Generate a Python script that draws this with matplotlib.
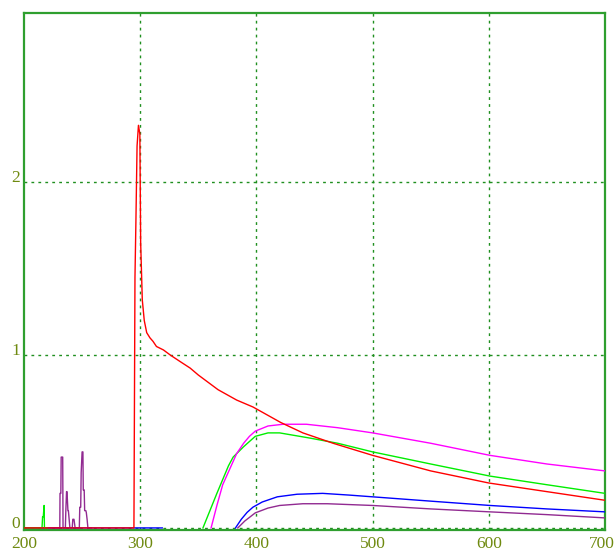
import numpy as np
import matplotlib
matplotlib.use("Agg")
import matplotlib.pyplot as plt
import matplotlib.transforms as mtransforms

# ---- data ----
red_wl = [200, 294.6, 295, 295.5, 296.3, 297.3, 298.5, 299.7, 300.4, 301.8, 303.5, 305.6,
          308.4, 311, 314, 320, 326, 335, 343, 350, 358, 367, 383, 397, 421, 440, 466,
          500, 550, 600, 650, 700]
red_val = [0, 0, 0.64, 1.45, 1.77, 2.21, 2.33, 2.28, 1.65, 1.32, 1.20, 1.13,
           1.10, 1.08, 1.05, 1.03, 1.00, 0.96, 0.925, 0.885, 0.845, 0.80, 0.74, 0.70, 0.61, 0.55, 0.49,
           0.42, 0.33, 0.26, 0.21, 0.16]

magenta_wl = [361, 366, 371, 377, 383, 389, 394, 399, 410, 423, 443, 470, 500, 550, 601, 650, 700]
magenta_val = [0, 0.13, 0.25, 0.34, 0.43, 0.49, 0.53, 0.56, 0.59, 0.60, 0.60, 0.58, 0.55, 0.49, 0.42, 0.37, 0.33]

green_wl = [200, 215.5, 216, 216.6, 217.3, 217.6, 220, None,
            354, 360, 366, 371, 376, 380, 389, 399, 410, 420, 446, 470, 500, 550, 601, 650, 700]
green_val = [0, 0, 0.065, 0.065, 0.13, 0, 0, None,
             0, 0.10, 0.20, 0.28, 0.36, 0.41, 0.47, 0.53, 0.55, 0.55, 0.52, 0.49, 0.44, 0.37, 0.30, 0.25, 0.20]

blue_wl = [200, 319, None,
           382, 387, 392, 397, 405, 418, 435, 457, 480, 500, 550, 601, 650, 700]
blue_val = [0, 0, None,
            0, 0.05, 0.09, 0.12, 0.15, 0.18, 0.195, 0.20, 0.19, 0.18, 0.155, 0.13, 0.11, 0.093]

purple_wl = [200, 230.8, 231, 231.7, 232, 233.3, 233.6, 235.6, 236, 236.6, 237, 237.8, 238.2, 239.5,
             241.5, 242, 243, 244, 247.6, 248, 248.8, 249.2, 250, 250.7, 251, 251.8, 252.2, 253.2,
             253.6, 254.3, 255, 258, None,
             384, 390, 399, 410, 420, 440, 461, 500, 550, 601, 650, 700]
purple_val = [0, 0, 0.20, 0.20, 0.41, 0.41, 0, 0, 0.10, 0.21, 0.21, 0.10, 0.10, 0,
              0, 0.05, 0.05, 0, 0, 0.12, 0.12, 0.32, 0.44, 0.44, 0.22, 0.22, 0.10, 0.10,
              0.09, 0.05, 0, 0, None,
              0, 0.04, 0.087, 0.115, 0.13, 0.14, 0.14, 0.13, 0.11, 0.093, 0.077, 0.058]

x_ticks = [200, 300, 400, 500, 600, 700]
y_ticks = [0, 1, 2]


def arr(v):
    return np.array([np.nan if a is None else a for a in v], dtype=float)


fig = plt.figure(figsize=(6.16, 5.51), dpi=100)
W, H = 616, 551
left, right, top, bottom = 24, 605, 13, 530
ax = fig.add_axes([left / W, (H - bottom) / H, (right - left) / W, (bottom - top) / H])

lw = 1.0
ax.plot(arr(purple_wl), arr(purple_val), color="#912a91", lw=lw, zorder=3)
ax.plot(arr(blue_wl), arr(blue_val), color="#0000ff", lw=lw, zorder=3)
ax.plot(arr(green_wl), arr(green_val), color="#00ee00", lw=lw, zorder=3)
ax.plot(arr(magenta_wl), arr(magenta_val), color="#ff00ff", lw=lw, zorder=3)
ax.plot(arr(red_wl), arr(red_val), color="#ff0000", lw=lw, zorder=4)

ax.set_xlim(200, 700)
ax.set_ylim(-0.012, 2.98)
ax.set_xticks(x_ticks)
ax.set_yticks(y_ticks)
ax.set_xticklabels([str(t) for t in x_ticks])
ax.set_yticklabels([str(t) for t in y_ticks])

grid_col = "#1f8f1f"
for xv in x_ticks[1:-1]:
    ax.axvline(xv, color=grid_col, lw=1.0, ls=(0, (2, 3)), zorder=1)
for yv in y_ticks:
    ax.axhline(yv, color=grid_col, lw=1.0, ls=(0, (2, 3)), zorder=1)

for s in ax.spines.values():
    s.set_color("#2f9f2f")
    s.set_linewidth(1.6)

ax.tick_params(axis="both", length=0, labelcolor="#6f8a10", labelsize=12.5)
ax.tick_params(axis="x", pad=4)
ax.tick_params(axis="y", pad=3)
for lab in ax.get_xticklabels() + ax.get_yticklabels():
    lab.set_family("Liberation Serif")
for lab in ax.get_yticklabels():
    lab.set_verticalalignment("baseline")
last = ax.get_xticklabels()[-1]
last.set_transform(last.get_transform() + mtransforms.ScaledTranslation(-3 / 100, 0, fig.dpi_scale_trans))

fig.savefig("out.png", dpi=100, facecolor="white")
